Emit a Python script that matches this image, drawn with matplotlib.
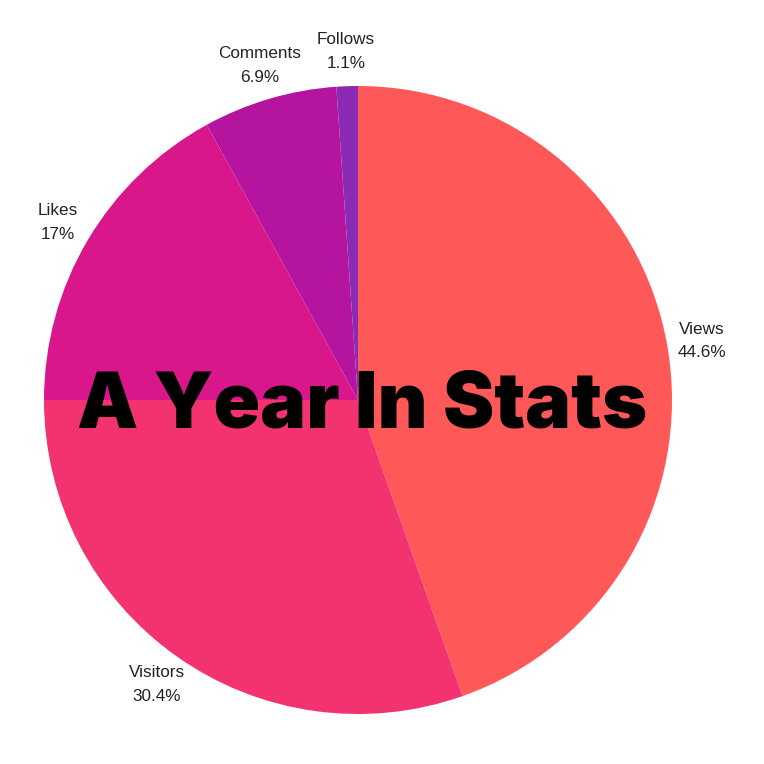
import matplotlib
matplotlib.use("Agg")
import matplotlib.pyplot as plt

# slice data, clockwise from 12 o'clock
categories = ["Views", "Visitors", "Likes", "Comments", "Follows"]
shares = [44.6, 30.4, 17.0, 6.9, 1.1]
pct_labels = ["44.6%", "30.4%", "17%", "6.9%", "1.1%"]
colors = ["#FF5858", "#F2336F", "#D9168A", "#B5149F", "#8B2BB3"]
title = "A Year In Stats"

fig = plt.figure(figsize=(7.64, 7.64), dpi=100)
ax = fig.add_axes([0, 0, 1, 1])

labels = [f"{c}\n{p}" for c, p in zip(categories, pct_labels)]
wedges, texts = ax.pie(shares, colors=colors, startangle=90, counterclock=False,
                       center=(358, 364), radius=314, labels=labels,
                       labeldistance=1.11, frame=True,
                       textprops=dict(fontsize=12.3, family="Liberation Sans",
                                      color="#222222", linespacing=1.7))
for t in texts:
    t.set_horizontalalignment("center")
    t.set_verticalalignment("center")
ax.set_xlim(0, 764)
ax.set_ylim(0, 764)
ax.set_aspect("equal")
ax.axis("off")

ax.text(362, 336, title, ha="center", va="baseline", fontsize=55.5,
        fontweight="black", family="Inter", color="black")

fig.savefig("out.png", dpi=100)
